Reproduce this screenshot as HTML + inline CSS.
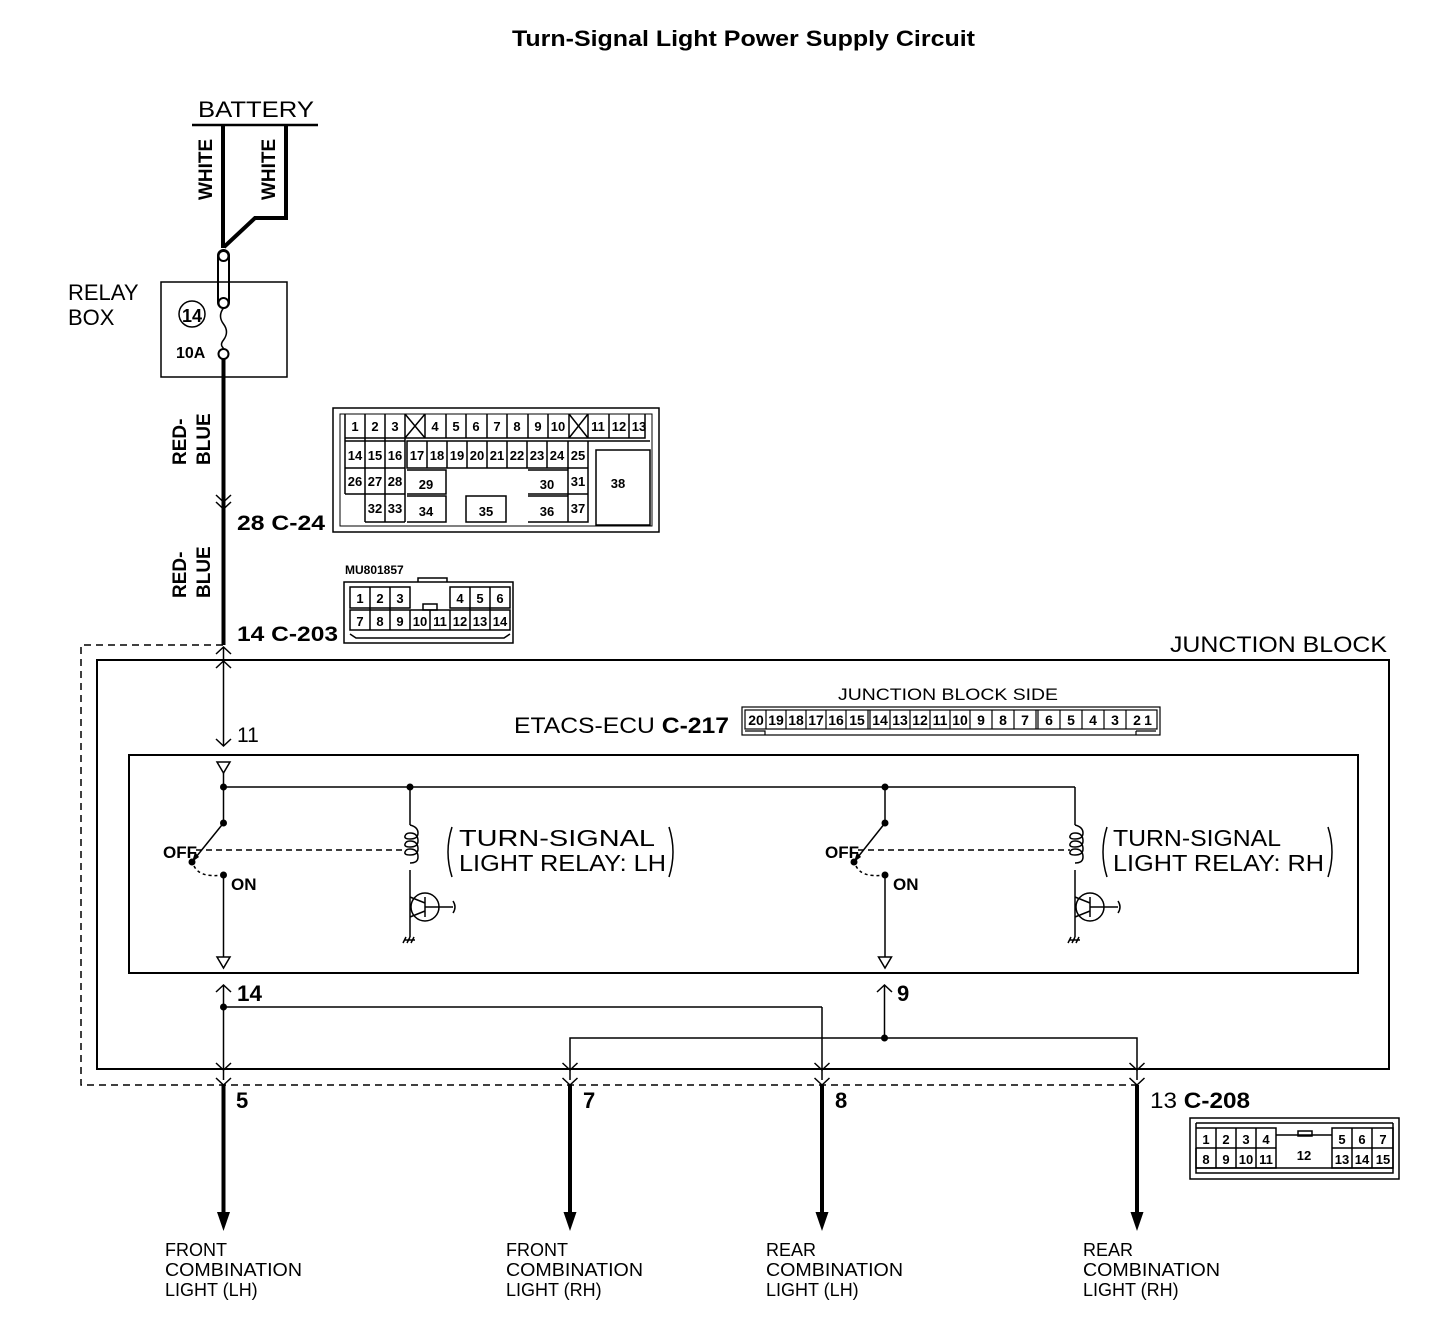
<!DOCTYPE html>
<html><head><meta charset="utf-8"><style>
html,body{margin:0;padding:0;background:#fff;}
svg{display:block;}
text{font-family:"Liberation Sans",sans-serif;fill:#000;}
.b{font-weight:bold;}
.c{font-size:13px;font-weight:bold;text-anchor:middle;}
</style></head><body>
<svg width="1456" height="1324" viewBox="0 0 1456 1324" xmlns="http://www.w3.org/2000/svg">
<text x="512" y="46" class="b" font-size="22" textLength="463" lengthAdjust="spacingAndGlyphs">Turn-Signal Light Power Supply Circuit</text>

<!-- battery -->
<text x="198" y="117" font-size="22" textLength="116" lengthAdjust="spacingAndGlyphs">BATTERY</text>
<line x1="192" y1="125" x2="318" y2="125" stroke="#000" stroke-width="2.5"/>
<g fill="none" stroke="#000" stroke-width="4">
<line x1="223" y1="125" x2="223" y2="248"/>
<polyline points="286,125 286,218 255,218 224,247"/>
</g>
<text transform="translate(212,200) rotate(-90)" class="b" font-size="19">WHITE</text>
<text transform="translate(275,200) rotate(-90)" class="b" font-size="19">WHITE</text>
<rect x="218" y="250" width="11" height="58" rx="5.5" fill="#fff" stroke="#000" stroke-width="2"/>
<circle cx="223.5" cy="256" r="5" fill="#fff" stroke="#000" stroke-width="2"/>
<circle cx="223.5" cy="303" r="5" fill="#fff" stroke="#000" stroke-width="2"/>
<rect x="161" y="282" width="126" height="95" fill="none" stroke="#000" stroke-width="1.5"/>
<text x="68" y="300" font-size="22">RELAY</text>
<text x="68" y="325" font-size="22">BOX</text>
<circle cx="192" cy="314" r="13" fill="none" stroke="#000" stroke-width="1.5"/>
<text x="192" y="322" text-anchor="middle" class="b" font-size="18">14</text>
<text x="176" y="358" class="b" font-size="16">10A</text>
<path d="M223.5,308 q-6,8 0,16 q6,8 0,16 q-4,5 0,8" fill="none" stroke="#000" stroke-width="1.5"/>
<circle cx="223.5" cy="354" r="5" fill="#fff" stroke="#000" stroke-width="2"/>
<line x1="223.5" y1="359" x2="223.5" y2="645" stroke="#000" stroke-width="4"/>
<text transform="translate(186,465) rotate(-90)" class="b" font-size="19">RED-</text>
<text transform="translate(210,465) rotate(-90)" class="b" font-size="19">BLUE</text>
<text transform="translate(186,598) rotate(-90)" class="b" font-size="19">RED-</text>
<text transform="translate(210,598) rotate(-90)" class="b" font-size="19">BLUE</text>
<path d="M216,495 l7.5,7 l7.5,-7 M216,502 l7.5,7 l7.5,-7" fill="none" stroke="#000" stroke-width="1.5"/>
<text x="237" y="530" class="b" font-size="21" textLength="88" lengthAdjust="spacingAndGlyphs">28  C-24</text>
<text x="237" y="641" class="b" font-size="21" textLength="101" lengthAdjust="spacingAndGlyphs">14  C-203</text>

<!-- C-24 connector -->
<g fill="none" stroke="#000" stroke-width="1.5">
<rect x="333" y="408" width="326" height="124"/>
<rect x="340" y="414" width="312" height="112" stroke-width="1"/>
<path d="M345,414 v24 h300 v-24 M345,441 h60 M407,441 h161 v27 h-161 z M345,414 v80 M365,414 v108 M385,414 v108 M405,414 v108 M345,468 h60 M345,494 h60 M365,522 h40 M407,470 h39 v24 h-39 M407,496 h39 v26 h-39 M466,496 h40 v26 h-40 z M528,470 h40 v24 h-40 M528,496 h40 v26 h-40 M568,441 v81 h20 v-81 h-20 M568,468 h20 M568,494 h20 M588,441 h62 M596,450 h54 v75 h-54 z"/>
<path d="M405,414 l20,24 M425,414 l-20,24 M569,414 l19,24 M588,414 l-19,24"/>
<path d="M425,414 v24 M446,414 v24 M466,414 v24 M487,414 v24 M507,414 v24 M528,414 v24 M548,414 v24 M569,414 v24 M609,414 v24 M629,414 v24 M588,414 v24"/>
<path d="M427,441 v27 M447,441 v27 M467,441 v27 M487,441 v27 M507,441 v27 M527,441 v27 M547,441 v27"/>
</g>
<text x="355" y="431" class="c">1</text><text x="375" y="431" class="c">2</text><text x="395" y="431" class="c">3</text>
<text x="435" y="431" class="c">4</text><text x="456" y="431" class="c">5</text><text x="476" y="431" class="c">6</text><text x="497" y="431" class="c">7</text><text x="517" y="431" class="c">8</text><text x="538" y="431" class="c">9</text><text x="558" y="431" class="c">10</text>
<text x="598" y="431" class="c">11</text><text x="619" y="431" class="c">12</text><text x="639" y="431" class="c">13</text>
<text x="355" y="460" class="c">14</text><text x="375" y="460" class="c">15</text><text x="395" y="460" class="c">16</text>
<text x="417" y="460" class="c">17</text><text x="437" y="460" class="c">18</text><text x="457" y="460" class="c">19</text><text x="477" y="460" class="c">20</text><text x="497" y="460" class="c">21</text><text x="517" y="460" class="c">22</text><text x="537" y="460" class="c">23</text><text x="557" y="460" class="c">24</text><text x="578" y="460" class="c">25</text>
<text x="355" y="486" class="c">26</text><text x="375" y="486" class="c">27</text><text x="395" y="486" class="c">28</text><text x="426" y="489" class="c">29</text><text x="547" y="489" class="c">30</text><text x="578" y="486" class="c">31</text>
<text x="375" y="513" class="c">32</text><text x="395" y="513" class="c">33</text><text x="426" y="516" class="c">34</text><text x="486" y="516" class="c">35</text><text x="547" y="516" class="c">36</text><text x="578" y="513" class="c">37</text>
<text x="618" y="488" class="c">38</text>

<!-- C-203 connector -->
<text x="345" y="574" class="b" font-size="12">MU801857</text>
<g fill="none" stroke="#000" stroke-width="1.5">
<rect x="344" y="582" width="169" height="61"/>
<path d="M418,582 v-4 h29 v4"/>
<path d="M350,587 h60 v21 h-60 z M450,587 h60 v21 h-60 z M350,610 h160 v20 h-160 z M370,587 v43 M390,587 v43 M430,610 v20 M470,587 v43 M490,587 v43 M410,610 v20 M450,610 v20 M350,634 l6,4 h148 l6,-4"/>
<rect x="423" y="604" width="14" height="6"/>
</g>
<text x="360" y="603" class="c">1</text><text x="380" y="603" class="c">2</text><text x="400" y="603" class="c">3</text><text x="460" y="603" class="c">4</text><text x="480" y="603" class="c">5</text><text x="500" y="603" class="c">6</text>
<text x="360" y="626" class="c">7</text><text x="380" y="626" class="c">8</text><text x="400" y="626" class="c">9</text><text x="420" y="626" class="c">10</text><text x="440" y="626" class="c">11</text><text x="460" y="626" class="c">12</text><text x="480" y="626" class="c">13</text><text x="500" y="626" class="c">14</text>

<!-- junction block -->
<path d="M223,645 H81 V1085 H1137" fill="none" stroke="#000" stroke-width="1.5" stroke-dasharray="7,5"/>
<rect x="97" y="660" width="1292" height="409" fill="none" stroke="#000" stroke-width="2"/>
<text x="1170" y="652" font-size="22" textLength="217" lengthAdjust="spacingAndGlyphs">JUNCTION BLOCK</text>
<g fill="none" stroke="#000" stroke-width="1.5">
<path d="M216,654 l7.5,-7 l7.5,7 M216,668 l7.5,-7 l7.5,7"/>
<line x1="223.5" y1="647" x2="223.5" y2="745"/>
<path d="M216,739 l7.5,7 l7.5,-7"/>
</g>
<text x="237" y="742" font-size="21">11</text>
<text x="514" y="733" font-size="22" textLength="215" lengthAdjust="spacingAndGlyphs">ETACS-ECU <tspan class="b">C-217</tspan></text>
<text x="838" y="700" font-size="17" textLength="220" lengthAdjust="spacingAndGlyphs">JUNCTION BLOCK SIDE</text>
<g fill="none" stroke="#000" stroke-width="1.2">
<rect x="742" y="707" width="418" height="28"/>
<rect x="745" y="710" width="412" height="19"/>
<path d="M745,731 h20 v4 M1136,731 h20 M1136,731 v4"/>
<path d="M766,710 v19 M786,710 v19 M806,710 v19 M826,710 v19 M846,710 v19 M868,710 v19 M870,710 v19 M890,710 v19 M910,710 v19 M930,710 v19 M950,710 v19 M970,710 v19 M992,710 v19 M1014,710 v19 M1036,710 v19 M1038,710 v19 M1060,710 v19 M1082,710 v19 M1104,710 v19 M1126,710 v19"/>
</g>
<g font-size="14" font-weight="bold" text-anchor="middle">
<text x="756" y="725">20</text><text x="776" y="725">19</text><text x="796" y="725">18</text><text x="816" y="725">17</text><text x="836" y="725">16</text><text x="857" y="725">15</text><text x="880" y="725">14</text><text x="900" y="725">13</text><text x="920" y="725">12</text><text x="940" y="725">11</text><text x="960" y="725">10</text><text x="981" y="725">9</text><text x="1003" y="725">8</text><text x="1025" y="725">7</text><text x="1049" y="725">6</text><text x="1071" y="725">5</text><text x="1093" y="725">4</text><text x="1115" y="725">3</text><text x="1137" y="725">2</text><text x="1148" y="725">1</text>
</g>

<!-- ECU box -->
<rect x="129" y="755" width="1229" height="218" fill="none" stroke="#000" stroke-width="2"/>
<g fill="none" stroke="#000" stroke-width="1.5">
<path d="M217,762 h13 l-6.5,11 z"/>
<line x1="223.5" y1="773" x2="223.5" y2="823"/>
<line x1="223.5" y1="787" x2="1075" y2="787"/>
<line x1="1075" y1="787" x2="1075" y2="825"/>
<line x1="885" y1="787" x2="885" y2="823"/>
<line x1="410" y1="787" x2="410" y2="825"/>
<line x1="223.5" y1="823" x2="192" y2="862"/>
<path d="M196,850 H405" stroke-dasharray="6,4"/>
<path d="M194,866 q6,12 28,9" stroke-dasharray="3,3"/>
<line x1="223.5" y1="875" x2="223.5" y2="957"/>
<path d="M217,957 h13 l-6.5,11 z"/>
<path d="M410,825 q8,2 8,8 q0,6 -8,6 q-6,0 -5,-3 q1,-3 5,-3 q8,0 8,8 q0,6 -8,6 q-6,0 -5,-3 q1,-3 5,-3 q8,0 8,8 q0,6 -8,6 q-6,0 -5,-3 q1,-3 5,-3 q8,0 8,8 q0,6 -8,6"/>
<line x1="410" y1="870" x2="410" y2="897"/>
<circle cx="425" cy="907" r="14"/>
<path d="M410,897 l15,6 M425,897 v20 M410,917 l15,-6 M410,897 v40 M425,907 h28 M453,901 q4,6 0,12"/>
<path d="M405,940 h10 M406,937 l-3,6 M410,937 l-3,6 M414,937 l-3,6"/>
<path d="M452,827 q-8,25 0,50 M669,827 q8,25 0,50"/>
<line x1="885" y1="823" x2="854" y2="862"/>
<path d="M858,850 H1070" stroke-dasharray="6,4"/>
<path d="M856,866 q6,12 28,9" stroke-dasharray="3,3"/>
<line x1="885" y1="875" x2="885" y2="957"/>
<path d="M878.5,957 h13 l-6.5,11 z"/>
<path d="M1075,825 q8,2 8,8 q0,6 -8,6 q-6,0 -5,-3 q1,-3 5,-3 q8,0 8,8 q0,6 -8,6 q-6,0 -5,-3 q1,-3 5,-3 q8,0 8,8 q0,6 -8,6 q-6,0 -5,-3 q1,-3 5,-3 q8,0 8,8 q0,6 -8,6"/>
<line x1="1075" y1="870" x2="1075" y2="897"/>
<circle cx="1090" cy="907" r="14"/>
<path d="M1075,897 l15,6 M1090,897 v20 M1075,917 l15,-6 M1075,897 v40 M1090,907 h28 M1118,901 q4,6 0,12"/>
<path d="M1070,940 h10 M1071,937 l-3,6 M1075,937 l-3,6 M1079,937 l-3,6"/>
<path d="M1107,827 q-8,25 0,50 M1328,827 q8,25 0,50"/>
</g>
<g fill="#000">
<circle cx="223.5" cy="787" r="3.5"/><circle cx="410" cy="787" r="3.5"/><circle cx="885" cy="787" r="3.5"/>
<circle cx="223.5" cy="823" r="3.5"/><circle cx="192" cy="862" r="3.5"/><circle cx="223.5" cy="875" r="3.5"/>
<circle cx="885" cy="823" r="3.5"/><circle cx="854" cy="862" r="3.5"/><circle cx="885" cy="875" r="3.5"/>
<path d="M192,862 l3,-10 l4,5 z"/><path d="M854,862 l3,-10 l4,5 z"/>
</g>
<text x="163" y="858" class="b" font-size="17">OFF</text>
<text x="231" y="890" class="b" font-size="17">ON</text>
<text x="825" y="858" class="b" font-size="17">OFF</text>
<text x="893" y="890" class="b" font-size="17">ON</text>
<text x="459" y="846" font-size="23" textLength="196" lengthAdjust="spacingAndGlyphs">TURN-SIGNAL</text>
<text x="459" y="871" font-size="23" textLength="207" lengthAdjust="spacingAndGlyphs">LIGHT RELAY: LH</text>
<text x="1113" y="846" font-size="23" textLength="168" lengthAdjust="spacingAndGlyphs">TURN-SIGNAL</text>
<text x="1113" y="871" font-size="23" textLength="211" lengthAdjust="spacingAndGlyphs">LIGHT RELAY: RH</text>

<!-- outputs -->
<g fill="none" stroke="#000" stroke-width="1.5">
<path d="M216,992 l7.5,-7 l7.5,7"/>
<line x1="223.5" y1="985" x2="223.5" y2="1080"/>
<line x1="223.5" y1="1007" x2="822" y2="1007"/>
<line x1="822" y1="1007" x2="822" y2="1080"/>
<path d="M877,992 l7.5,-7 l7.5,7"/>
<line x1="884.5" y1="985" x2="884.5" y2="1038"/>
<path d="M570,1080 V1038 H1137 V1080"/>
<path d="M216,1063 l7.5,7 l7.5,-7 M216,1078 l7.5,7 l7.5,-7"/>
<path d="M562.5,1063 l7.5,7 l7.5,-7 M562.5,1078 l7.5,7 l7.5,-7"/>
<path d="M814.5,1063 l7.5,7 l7.5,-7 M814.5,1078 l7.5,7 l7.5,-7"/>
<path d="M1129.5,1063 l7.5,7 l7.5,-7 M1129.5,1078 l7.5,7 l7.5,-7"/>
</g>
<g fill="#000">
<circle cx="223.5" cy="1007" r="3.5"/><circle cx="884.5" cy="1038" r="3.5"/>
</g>
<text x="237" y="1001" class="b" font-size="22" textLength="25" lengthAdjust="spacingAndGlyphs">14</text>
<text x="897" y="1001" class="b" font-size="22">9</text>
<g stroke="#000" stroke-width="4">
<line x1="223.5" y1="1085" x2="223.5" y2="1215"/><line x1="570" y1="1085" x2="570" y2="1215"/><line x1="822" y1="1085" x2="822" y2="1215"/><line x1="1137" y1="1085" x2="1137" y2="1215"/>
</g>
<g fill="#000">
<path d="M217,1212 h13 l-6.5,19 z"/><path d="M563.5,1212 h13 l-6.5,19 z"/><path d="M815.5,1212 h13 l-6.5,19 z"/><path d="M1130.5,1212 h13 l-6.5,19 z"/>
</g>
<text x="236" y="1108" class="b" font-size="22">5</text>
<text x="583" y="1108" class="b" font-size="22">7</text>
<text x="835" y="1108" class="b" font-size="22">8</text>
<text x="1150" y="1108" font-size="22" textLength="100" lengthAdjust="spacingAndGlyphs">13 <tspan class="b">C-208</tspan></text>

<!-- C-208 -->
<g fill="none" stroke="#000" stroke-width="1.5">
<rect x="1190" y="1118" width="209" height="61"/>
<path d="M1196,1123 h197 M1196,1123 v50 h197 v-50 M1196,1168 h197"/>
<path d="M1196,1128 h80 v20 h-80 M1196,1148 v20 h80 v-40 M1332,1128 h61 v40 h-61 z M1332,1148 h61 M1216,1128 v40 M1236,1128 v40 M1256,1128 v40 M1352,1128 v40 M1372,1128 v40 M1276,1135 h56"/>
<rect x="1298" y="1131" width="14" height="5"/>
</g>
<text x="1206" y="1144" class="c">1</text><text x="1226" y="1144" class="c">2</text><text x="1246" y="1144" class="c">3</text><text x="1266" y="1144" class="c">4</text>
<text x="1342" y="1144" class="c">5</text><text x="1362" y="1144" class="c">6</text><text x="1383" y="1144" class="c">7</text>
<text x="1206" y="1164" class="c">8</text><text x="1226" y="1164" class="c">9</text><text x="1246" y="1164" class="c">10</text><text x="1266" y="1164" class="c">11</text>
<text x="1304" y="1160" class="c" font-size="15">12</text>
<text x="1342" y="1164" class="c">13</text><text x="1362" y="1164" class="c">14</text><text x="1383" y="1164" class="c">15</text>

<!-- labels -->
<g font-size="18">
<text x="165" y="1256">FRONT</text><text x="165" y="1276" textLength="137" lengthAdjust="spacingAndGlyphs">COMBINATION</text><text x="165" y="1296">LIGHT (LH)</text>
<text x="506" y="1256">FRONT</text><text x="506" y="1276" textLength="137" lengthAdjust="spacingAndGlyphs">COMBINATION</text><text x="506" y="1296">LIGHT (RH)</text>
<text x="766" y="1256">REAR</text><text x="766" y="1276" textLength="137" lengthAdjust="spacingAndGlyphs">COMBINATION</text><text x="766" y="1296">LIGHT (LH)</text>
<text x="1083" y="1256">REAR</text><text x="1083" y="1276" textLength="137" lengthAdjust="spacingAndGlyphs">COMBINATION</text><text x="1083" y="1296">LIGHT (RH)</text>
</g>
</svg>
</body></html>
